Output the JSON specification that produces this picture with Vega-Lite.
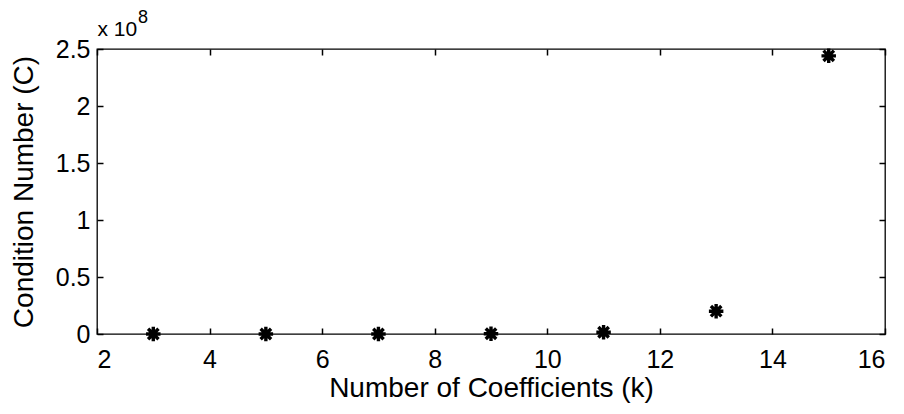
{
  "$schema": "https://vega.github.io/schema/vega-lite/v6.json",
  "autosize": {"type": "none"},
  "padding": {"left": 97, "top": 49, "right": 19, "bottom": 80},
  "width": 788,
  "height": 285,
  "background": "white",
  "config": {
    "font": "Liberation Sans",
    "view": {"stroke": "#000", "strokeWidth": 1.3},
    "axis": {"grid": false, "domain": false, "ticks": true, "tickColor": "#000", "tickOpacity": 1, "tickWidth": 1.5, "tickSize": -6, "zindex": 1, "labelColor": "#000", "titleColor": "#000", "labelFont": "Liberation Sans", "titleFont": "Liberation Sans", "labelFontSize": 25, "titleFontSize": 28, "titleFontWeight": "normal"}
  },
  "title": {"text": "8", "anchor": "start", "frame": "group", "fontSize": 18, "fontWeight": "normal", "color": "#000", "font": "Liberation Sans", "offset": -9, "dx": 41},
  "data": {"values": [
    {"k": 3, "C": 50},
    {"k": 5, "C": 1000},
    {"k": 7, "C": 30000},
    {"k": 9, "C": 200000},
    {"k": 11, "C": 1500000},
    {"k": 13, "C": 20000000},
    {"k": 15, "C": 244000000}
  ]},
  "resolve": {"axis": {"x": "independent", "y": "independent"}},
  "layer": [
    {
      "mark": {"type": "point", "shape": "M -1 0 L 1 0 M 0 -1 L 0 1 M -0.72 -0.72 L 0.72 0.72 M -0.72 0.72 L 0.72 -0.72", "filled": false, "strokeWidth": 3.4, "color": "#000", "size": 210, "opacity": 1},
      "encoding": {
        "x": {"field": "k", "type": "quantitative", "scale": {"domain": [2, 16], "nice": false, "zero": false},
          "axis": {"orient": "bottom", "values": [2, 4, 6, 8, 10, 12, 14, 16], "labelPadding": 19, "title": "Number of Coefficients (k)", "titlePadding": 2}},
        "y": {"field": "C", "type": "quantitative", "scale": {"domain": [0, 250000000], "nice": false},
          "axis": {"orient": "left", "values": [0, 50000000, 100000000, 150000000, 200000000, 250000000], "labelExpr": "datum.value / 100000000", "labelPadding": 13, "title": "Condition Number (C)", "titlePadding": 17}}
      }
    },
    {
      "mark": {"type": "point", "opacity": 0},
      "encoding": {
        "x": {"field": "k", "type": "quantitative", "axis": {"orient": "top", "values": [2, 4, 6, 8, 10, 12, 14, 16], "labels": false, "title": "x 10", "titleFontSize": 21, "titleAnchor": "start", "titleAlign": "left", "titlePadding": 9}},
        "y": {"field": "C", "type": "quantitative", "axis": {"orient": "right", "values": [0, 50000000, 100000000, 150000000, 200000000, 250000000], "labels": false, "title": null}}
      }
    }
  ]
}
